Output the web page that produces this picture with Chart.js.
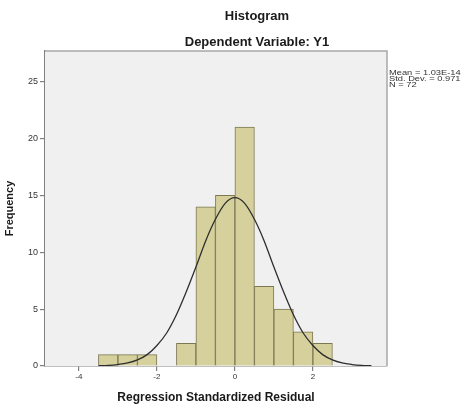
<!DOCTYPE html>
<html>
<head>
<meta charset="utf-8">
<script src="https://cdn.jsdelivr.net/npm/chart.js@4"></script>
<style>
  html, body { margin: 0; padding: 0; background: #ffffff; }
  #wrap { width: 461px; height: 409px; }
</style>
</head>
<body>
<div id="wrap"><canvas id="c" width="461" height="409"></canvas></div>
<script>
// ---- data ----
const binCenters = [-3.25, -2.75, -2.25, -1.25, -0.75, -0.25, 0.25, 0.75, 1.25, 1.75, 2.25];
const frequencies = [1, 1, 1, 2, 14, 15, 21, 7, 5, 3, 2];
const curveX = [-3.5, -3.25, -3, -2.75, -2.5, -2.25, -2, -1.75, -1.5, -1.25, -1, -0.75, -0.5, -0.25, 0,
                 0.25, 0.5, 0.75, 1, 1.25, 1.5, 1.75, 2, 2.25, 2.5, 2.75, 3, 3.25, 3.5];
const curveY = [0.02, 0.05, 0.13, 0.27, 0.54, 1.0, 1.8, 2.9, 4.5, 6.5, 8.7, 11.0, 12.9, 14.3, 14.8,
                14.3, 12.9, 11.0, 8.7, 6.5, 4.5, 2.9, 1.8, 1.0, 0.54, 0.27, 0.13, 0.05, 0.02];
const statLines = ["Mean = 1.03E-14", "Std. Dev. = 0.971", "N = 72"];
const titleText = "Histogram";
const subtitleText = "Dependent Variable: Y1";
const xTitle = "Regression Standardized Residual";
const yTitle = "Frequency";

const barData = binCenters.map((x, i) => ({ x: x, y: frequencies[i] }));
const lineData = curveX.map((x, i) => ({ x: x, y: curveY[i] }));

const framePlugin = {
  id: 'frame',
  beforeDatasetsDraw(chart) {
    const { ctx, chartArea: a } = chart;
    ctx.save();
    ctx.fillStyle = '#f0f0f0';
    ctx.fillRect(a.left, a.top, a.right - a.left, a.bottom - a.top);
    ctx.restore();
  },
  afterDraw(chart) {
    const { ctx, chartArea: a } = chart;
    ctx.save();
    ctx.strokeStyle = '#a8a8a8';
    ctx.lineWidth = 1.5;
    ctx.beginPath();
    ctx.moveTo(a.left, a.top);
    ctx.lineTo(a.right, a.top);
    ctx.lineTo(a.right, a.bottom);
    ctx.stroke();
    // titles
    ctx.fillStyle = '#1a1a1a';
    ctx.textAlign = 'center';
    ctx.textBaseline = 'middle';
    ctx.font = 'bold 13px "Liberation Sans", Arial, sans-serif';
    ctx.fillText(titleText, 257, 16);
    ctx.fillText(subtitleText, 257, 42);
    // statistics (text is horizontally stretched in the reference)
    ctx.fillStyle = '#333333';
    ctx.textAlign = 'left';
    ctx.font = '7px "Liberation Sans", Arial, sans-serif';
    statLines.forEach((t, i) => {
      ctx.save();
      ctx.translate(389, 73 + i * 6);
      ctx.scale(1.33, 1);
      ctx.fillText(t, 0, 0);
      ctx.restore();
    });
    ctx.restore();
  }
};

new Chart(document.getElementById('c'), {
  data: {
    datasets: [
      {
        type: 'line',
        data: lineData,
        borderColor: '#2e2e2e',
        borderWidth: 1.3,
        pointRadius: 0,
        cubicInterpolationMode: 'monotone',
        fill: false,
        order: 0
      },
      {
        type: 'bar',
        data: barData,
        backgroundColor: '#d6d09c',
        borderColor: '#7d7852',
        borderWidth: 1,
        barPercentage: 1,
        categoryPercentage: 1,
        order: 1
      }
    ]
  },
  options: {
    responsive: false,
    animation: false,
    events: [],
    layout: { padding: { left: 0, right: 74, top: 51, bottom: 0 } },
    plugins: { legend: { display: false }, tooltip: { enabled: false } },
    scales: {
      x: {
        type: 'linear',
        min: -4.87,
        max: 3.9,
        offset: false,
        afterFit(s) { s.height = 43; },
        ticks: { stepSize: 2, includeBounds: false, color: '#333', font: { size: 8, family: '"Liberation Sans", Arial, sans-serif' }, padding: 1, maxRotation: 0 },
        grid: { display: true, offset: false, drawOnChartArea: false, drawTicks: true, tickLength: 5, color: '#808080', lineWidth: 1.2 },
        border: { display: true, color: '#808080', width: 1.5 },
        title: { display: true, text: xTitle, color: '#1a1a1a', font: { size: 12, weight: 'bold', family: '"Liberation Sans", Arial, sans-serif' }, padding: { top: 0, bottom: 4 } }
      },
      y: {
        type: 'linear',
        min: 0,
        max: 27.7,
        afterFit(s) { s.width = 45; },
        ticks: { stepSize: 5, includeBounds: false, color: '#333', font: { size: 9, family: '"Liberation Sans", Arial, sans-serif' }, padding: 2 },
        grid: { display: true, drawOnChartArea: false, drawTicks: true, tickLength: 5, color: '#808080', lineWidth: 1.2 },
        border: { display: true, color: '#808080', width: 1.5 },
        title: { display: true, text: yTitle, color: '#1a1a1a', font: { size: 11, weight: 'bold', family: '"Liberation Sans", Arial, sans-serif' }, padding: { top: 3, bottom: 0 } }
      }
    }
  },
  plugins: [framePlugin]
});
</script>
</body>
</html>
